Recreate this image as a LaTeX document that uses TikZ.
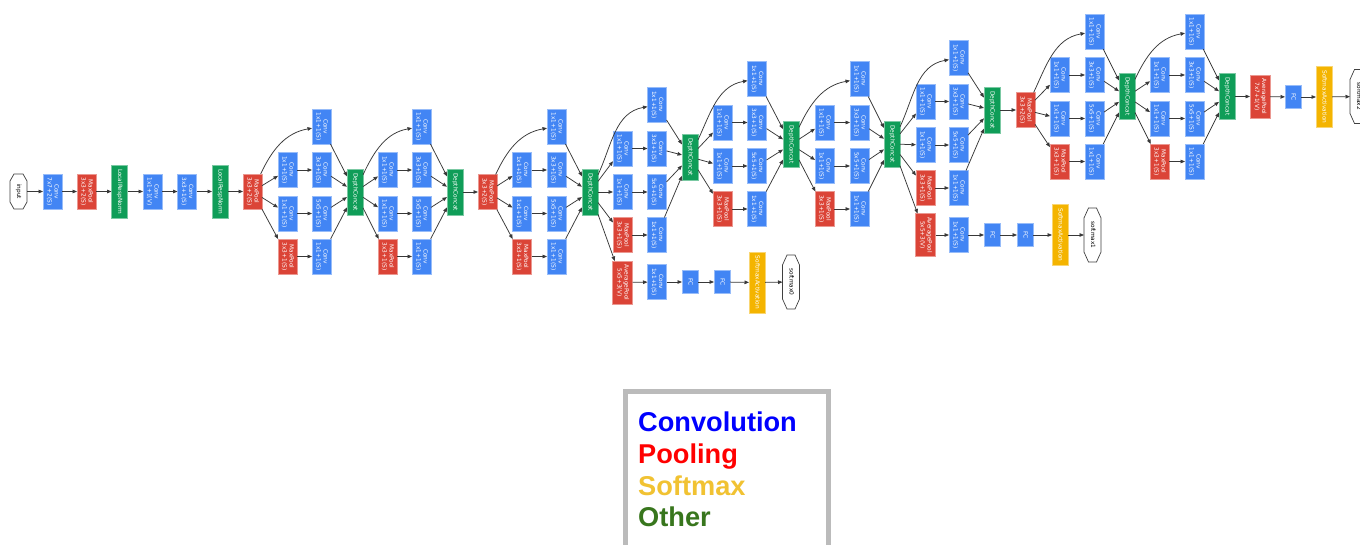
\documentclass[tikz,border=0pt]{standalone}
\usepackage{fontspec}
\usepackage{graphicx}
\usetikzlibrary{arrows.meta}
\newfontfamily\dejavu{DejaVu Sans}
\newfontfamily\legsans{Liberation Sans}
\definecolor{gblue}{RGB}{66,133,244}
\definecolor{gred}{RGB}{219,68,55}
\definecolor{ggreen}{RGB}{15,157,88}
\definecolor{gyellow}{RGB}{244,180,0}
\definecolor{legblue}{RGB}{0,0,255}
\definecolor{legred}{RGB}{255,0,0}
\definecolor{legyellow}{RGB}{241,194,50}
\definecolor{leggreen}{RGB}{56,118,29}
\definecolor{leggray}{RGB}{187,187,187}
\newcommand\lbl[1]{\rotatebox{-90}{\begin{tabular}{@{}c@{}}#1\end{tabular}}}
\newcommand\octo[3]{\draw[octline] ([xshift=#2pt]#1.north west) -- ([xshift=-#2pt]#1.north east) -- ([yshift=-#3pt]#1.north east) -- ([yshift=#3pt]#1.south east) -- ([xshift=-#2pt]#1.south east) -- ([xshift=#2pt]#1.south west) -- ([yshift=#3pt]#1.south west) -- ([yshift=-#3pt]#1.north west) -- cycle;}
\tikzset{
  box/.style={rectangle, inner sep=0pt, outer sep=0pt, text=white, line width=0.5pt, font=\dejavu\fontsize{5.8}{6.9}\selectfont},
  conv/.style={box, fill=gblue, draw=gblue!55, minimum width=19pt, minimum height=35pt},
  pool/.style={box, fill=gred, draw=gred!55, minimum width=19pt, minimum height=35pt},
  apool/.style={box, fill=gred, draw=gred!55, minimum width=20pt, minimum height=43pt},
  dcat/.style={box, fill=ggreen, draw=ggreen!55, minimum width=16pt, minimum height=46pt},
  lrn/.style={box, fill=ggreen, draw=ggreen!55, minimum width=16pt, minimum height=53pt},
  fc/.style={box, fill=gblue, draw=gblue!55, minimum width=16pt, minimum height=23pt},
  smx/.style={box, fill=gyellow, draw=gyellow!55, minimum width=16pt, minimum height=61pt},
  oct/.style={rectangle, inner sep=0pt, outer sep=0pt, text=black, font=\dejavu\fontsize{5.8}{6.9}\selectfont, minimum width=17pt},
  octline/.style={draw=black!75, line width=0.7pt},
  conn/.style={draw=black!78, line width=0.75pt, -{Triangle[length=4.5pt,width=3.6pt]}},
  legtext/.style={anchor=base west, inner sep=0pt, font=\legsans\bfseries\fontsize{27.2}{30}\selectfont}
}
\newcommand\incep[7]{%
  \node[conv] (#1t) at (#4,{-#5}) {\lbl{Conv\\1x1+1(S)}};
  \node[conv] (#1a) at (#3,{-#5-43.5}) {\lbl{Conv\\1x1+1(S)}};
  \node[conv] (#1b) at (#4,{-#5-43.5}) {\lbl{Conv\\3x3+1(S)}};
  \node[conv] (#1c) at (#3,{-#5-87}) {\lbl{Conv\\1x1+1(S)}};
  \node[conv] (#1d) at (#4,{-#5-87}) {\lbl{Conv\\5x5+1(S)}};
  \node[pool] (#1e) at (#3,{-#5-130}) {\lbl{MaxPool\\3x3+1(S)}};
  \node[conv] (#1f) at (#4,{-#5-130}) {\lbl{Conv\\1x1+1(S)}};
  \node[dcat] (#1dc) at (#6,{-#7}) {\lbl{DepthConcat}};
  \draw[conn] (#2) to[out=65,in=190] (#1t);
  \draw[conn] (#2) -- (#1a);
  \draw[conn] (#2) -- (#1c);
  \draw[conn] (#2) -- (#1e);
  \draw[conn] (#1a) -- (#1b);
  \draw[conn] (#1c) -- (#1d);
  \draw[conn] (#1e) -- (#1f);
  \draw[conn] (#1t) -- (#1dc);
  \draw[conn] (#1b) -- (#1dc);
  \draw[conn] (#1d) -- (#1dc);
  \draw[conn] (#1f) -- (#1dc);
}
\begin{document}
\begin{tikzpicture}[x=1pt,y=1pt]
\useasboundingbox (0,0) rectangle (1360,-545);
\fill[white] (0,0) rectangle (1360,-545);

% stem
\node[oct, minimum height=35pt] (in) at (18.5,-191.5) {\lbl{input}};
\octo{in}{4}{7}
\node[conv] (c1) at (52.5,-191.5) {\lbl{Conv\\7x7+2(S)}};
\node[pool] (p1) at (86.5,-191.5) {\lbl{MaxPool\\3x3+2(S)}};
\node[lrn] (n1) at (119.5,-191.5) {\lbl{LocalRespNorm}};
\node[conv] (c2r) at (152.5,-191.5) {\lbl{Conv\\1x1+1(V)}};
\node[conv] (c2) at (187,-191.5) {\lbl{Conv\\3x3+1(S)}};
\node[lrn] (n2) at (220,-191.5) {\lbl{LocalRespNorm}};
\node[pool] (p2) at (252.5,-191.5) {\lbl{MaxPool\\3x3+2(S)}};
\draw[conn] (in) -- (c1);
\draw[conn] (c1) -- (p1);
\draw[conn] (p1) -- (n1);
\draw[conn] (n1) -- (c2r);
\draw[conn] (c2r) -- (c2);
\draw[conn] (c2) -- (n2);
\draw[conn] (n2) -- (p2);

% inception 3a, 3b
\incep{ia}{p2}{287.5}{321.5}{126.5}{355}{192}
\incep{ib}{iadc}{387.5}{421.5}{126.5}{455}{192}
\node[pool] (p3) at (487.5,-192) {\lbl{MaxPool\\3x3+2(S)}};
\draw[conn] (ibdc) -- (p3);

% inception 4a..4e
\incep{ic}{p3}{522}{556.5}{126.5}{590}{192}
\incep{id}{icdc}{622.5}{657}{105}{690}{157}
\incep{ie}{iddc}{722.5}{757}{79}{791}{144.5}
\incep{if}{iedc}{824.5}{859.5}{79}{892}{144}
\incep{ig}{ifdc}{925.5}{958.5}{58}{992}{110}

% auxiliary 0
\node[apool] (a0p) at (622.5,-282.5) {\lbl{AveragePool\\5x5+3(V)}};
\node[conv] (a0c) at (657,-282) {\lbl{Conv\\1x1+1(S)}};
\node[fc] (a0f) at (690,-282) {\lbl{FC}};
\node[fc] (a0g) at (722,-282) {\lbl{FC}};
\node[smx] (a0s) at (757,-282.5) {\lbl{SoftmaxActivation}};
\node[oct, minimum height=54pt] (sm0) at (791,-282) {\lbl{softmax0}};
\octo{sm0}{4.5}{10}
\draw[conn] (icdc) -- (a0p);
\draw[conn] (a0p) -- (a0c);
\draw[conn] (a0c) -- (a0f);
\draw[conn] (a0f) -- (a0g);
\draw[conn] (a0g) -- (a0s);
\draw[conn] (a0s) -- (sm0);

% auxiliary 1
\node[apool] (a1p) at (925.5,-235) {\lbl{AveragePool\\5x5+3(V)}};
\node[conv] (a1c) at (958.5,-235) {\lbl{Conv\\1x1+1(S)}};
\node[fc] (a1f) at (992,-235) {\lbl{FC}};
\node[fc] (a1g) at (1025,-235) {\lbl{FC}};
\node[smx] (a1s) at (1060,-235) {\lbl{SoftmaxActivation}};
\node[oct, minimum height=54pt] (sm1) at (1092.5,-235) {\lbl{softmax1}};
\octo{sm1}{4.5}{10}
\draw[conn] (ifdc) -- (a1p);
\draw[conn] (a1p) -- (a1c);
\draw[conn] (a1c) -- (a1f);
\draw[conn] (a1f) -- (a1g);
\draw[conn] (a1g) -- (a1s);
\draw[conn] (a1s) -- (sm1);

% pool 4 and inception 5a, 5b
\node[pool] (p4) at (1025.5,-110) {\lbl{MaxPool\\3x3+2(S)}};
\draw[conn] (igdc) -- (p4);
\incep{ih}{p4}{1059.5}{1094.5}{31.5}{1127}{96.5}
\incep{ii}{ihdc}{1159.5}{1194.5}{31.5}{1227}{96.5}

% head
\node[apool] (ap) at (1260,-96.5) {\lbl{AveragePool\\7x7+1(V)}};
\node[fc] (fc) at (1293,-97) {\lbl{FC}};
\node[smx] (sx) at (1324,-97) {\lbl{SoftmaxActivation}};
\node[oct, minimum height=54pt] (sm2) at (1358.5,-96.5) {\lbl{softmax2}};
\octo{sm2}{4.5}{10}
\draw[conn] (iidc) -- (ap);
\draw[conn] (ap) -- (fc);
\draw[conn] (fc) -- (sx);
\draw[conn] (sx) -- (sm2);

% legend
\draw[draw=leggray, line width=4.5pt] (625.5,-560) -- (625.5,-391.5) -- (828.5,-391.5) -- (828.5,-560);
\node[legtext, text=legblue] (lconv) at (638,-431) {Convolution};
\node[legtext, text=legred] (lpool) at (638,-463) {Pooling};
\node[legtext, text=legyellow] (lsoft) at (638,-495) {Softmax};
\node[legtext, text=leggreen] (lother) at (638,-526) {Other};
\end{tikzpicture}
\end{document}
